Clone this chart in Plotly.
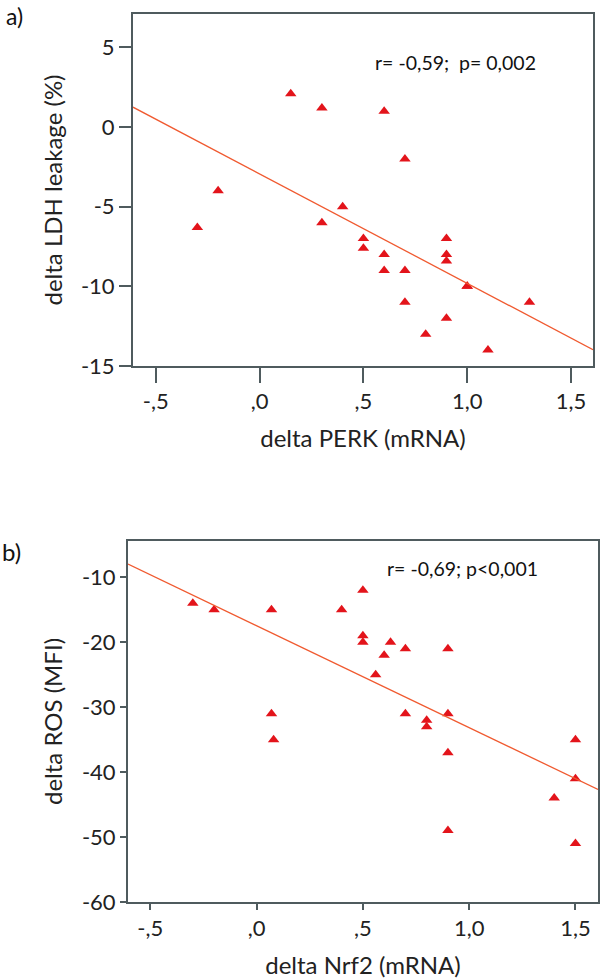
import plotly.graph_objects as go

# ---- Panel a data ----
perk_x = [0.15, 0.3, 0.6, 0.7, -0.2, 0.4, 0.3, -0.3, 0.5, 0.5, 0.6, 0.6, 0.7,
          0.9, 0.9, 0.9, 1.0, 1.0, 1.3, 0.7, 0.9, 0.8, 1.1]
ldh_y = [2.1, 1.2, 1.0, -2.0, -4.0, -5.0, -6.0, -6.3, -7.0, -7.6, -8.0, -9.0, -9.0,
         -7.0, -8.0, -8.4, -10.0, -10.0, -11.0, -11.0, -12.0, -13.0, -14.0]
fit_a = [-2.94, -6.87]          # intercept, slope

# ---- Panel b data ----
nrf2_x = [-0.3, -0.2, 0.07, 0.4, 0.5, 0.5, 0.5, 0.63, 0.7, 0.9, 0.6, 0.56,
          0.07, 0.08, 0.7, 0.8, 0.8, 0.9, 0.9, 0.9, 1.5, 1.5, 1.4, 1.5]
ros_y = [-14, -15, -15, -15, -12, -19, -20, -20, -21, -21, -22, -25,
         -31, -35, -31, -32, -33, -31, -37, -49, -35, -41, -44, -51]
fit_b = [-17.45, -15.7]

x_tickvals = [-0.5, 0.0, 0.5, 1.0, 1.5]
x_ticktext = ["-,5", ",0", ",5", "1,0", "1,5"]
ya_tickvals = [5, 0, -5, -10, -15]
ya_ticktext = ["5", "0", "-5", "-10", "-15"]
yb_tickvals = [-10, -20, -30, -40, -50, -60]
yb_ticktext = ["-10", "-20", "-30", "-40", "-50", "-60"]

xa_range = [-0.61, 1.606]
xb_range = [-0.605, 1.606]
ya_range = [-15, 7.1]
yb_range = [-60, -4.4]

FONT = "Lato"
AX = "#4f5b5e"
MARK = "#e3141b"
LINE = "#f05a30"

fig = go.Figure()

fig.add_trace(go.Scatter(x=perk_x, y=ldh_y, mode="markers", xaxis="x", yaxis="y",
                         marker=dict(symbol="triangle-up", size=10, color=MARK),
                         showlegend=False, cliponaxis=False))
fig.add_trace(go.Scatter(x=xa_range, y=[fit_a[0] + fit_a[1] * v for v in xa_range],
                         mode="lines", xaxis="x", yaxis="y",
                         line=dict(color=LINE, width=1.3), showlegend=False))
fig.add_trace(go.Scatter(x=nrf2_x, y=ros_y, mode="markers", xaxis="x2", yaxis="y2",
                         marker=dict(symbol="triangle-up", size=10, color=MARK),
                         showlegend=False, cliponaxis=False))
fig.add_trace(go.Scatter(x=xb_range, y=[fit_b[0] + fit_b[1] * v for v in xb_range],
                         mode="lines", xaxis="x2", yaxis="y2",
                         line=dict(color=LINE, width=1.3), showlegend=False))

W, H = 600, 979
def px_x(p):
    return p / W
def px_y(p):
    return 1 - p / H

axis_common = dict(showgrid=False, zeroline=False, showline=True, linecolor=AX,
                   linewidth=2, mirror=True, ticks="outside", tickcolor=AX,
                   tickwidth=2, automargin=False,
                   tickfont=dict(family=FONT, size=22, color="#222"))
TFONT = dict(family=FONT, size=24, color="#222")

fig.update_layout(
    width=W, height=H, margin=dict(l=0, r=0, t=0, b=0),
    paper_bgcolor="white", plot_bgcolor="white",
    font=dict(family=FONT, color="#222"),
    xaxis=dict(domain=[px_x(133), px_x(593)], range=xa_range, anchor="y",
               tickvals=x_tickvals, ticktext=x_ticktext, ticklen=15,
               title=dict(text="delta PERK (mRNA)", font=TFONT, standoff=17),
               **axis_common),
    yaxis=dict(domain=[px_y(366), px_y(14)], range=ya_range, anchor="x",
               tickvals=ya_tickvals, ticktext=ya_ticktext, ticklen=12,
               title=dict(text="delta LDH leakage (%)", font=TFONT, standoff=11),
               **axis_common),
    xaxis2=dict(domain=[px_x(128), px_x(598)], range=xb_range, anchor="y2",
                tickvals=x_tickvals, ticktext=x_ticktext, ticklen=6,
                title=dict(text="delta Nrf2 (mRNA)", font=TFONT, standoff=22),
                **axis_common),
    yaxis2=dict(domain=[px_y(902), px_y(541)], range=yb_range, anchor="x2",
                tickvals=yb_tickvals, ticktext=yb_ticktext, ticklen=6,
                title=dict(text="delta ROS (MFI)", font=TFONT, standoff=12),
                **axis_common),
    annotations=[
        dict(text="r= -0,59;  p= 0,002", x=px_x(373), y=px_y(62), xref="paper", yref="paper",
             xanchor="left", yanchor="middle", showarrow=False,
             font=dict(family=FONT, size=19.5, color="#111")),
        dict(text="r= -0,69; p<0,001", x=px_x(385), y=px_y(568), xref="paper", yref="paper",
             xanchor="left", yanchor="middle", showarrow=False,
             font=dict(family=FONT, size=19.5, color="#111")),
        dict(text="a)", x=px_x(4), y=1.0, xref="paper", yref="paper",
             xanchor="left", yanchor="top", showarrow=False,
             font=dict(family=FONT, size=23, color="#111")),
        dict(text="b)", x=px_x(0), y=px_y(551), xref="paper", yref="paper",
             xanchor="left", yanchor="middle", showarrow=False,
             font=dict(family=FONT, size=24, color="#111")),
    ],
)

fig.write_html(
    "out.html",
    config={"displayModeBar": False},
    post_script="document.body.style.margin='0';document.body.style.overflow='hidden';",
)
